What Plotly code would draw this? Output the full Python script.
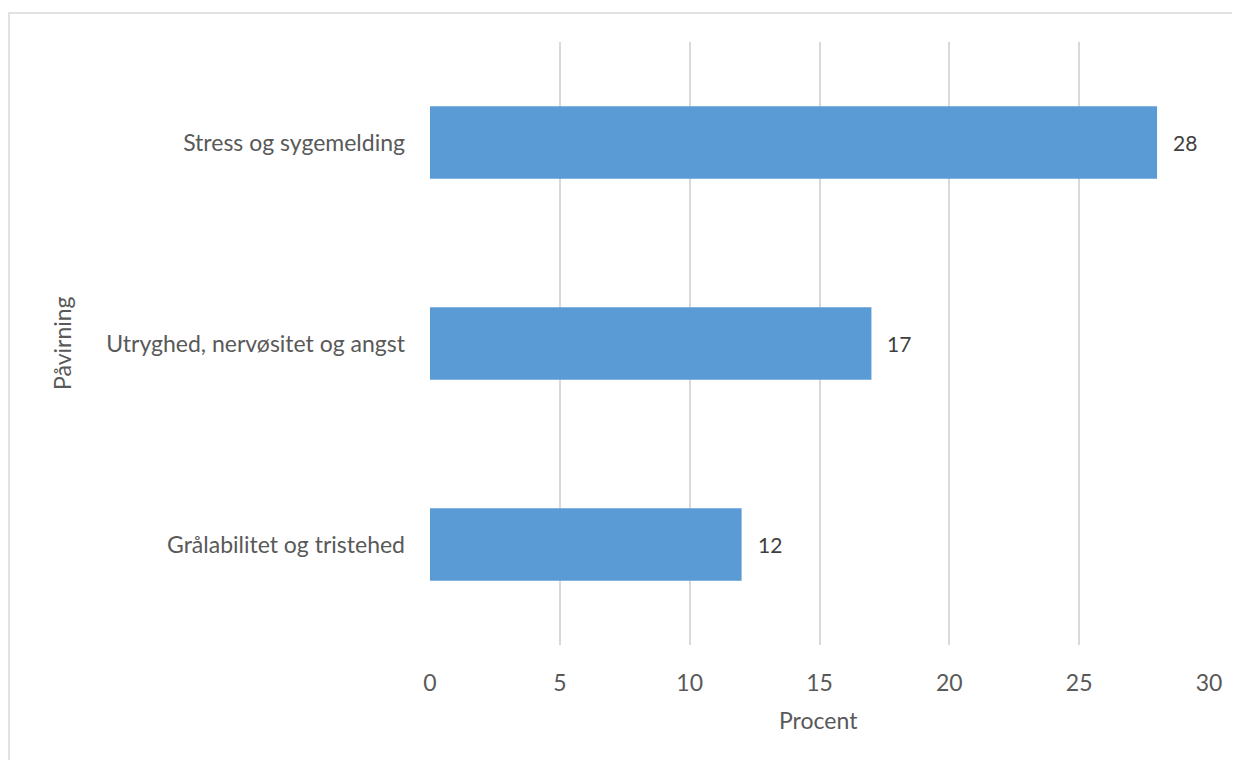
import plotly.graph_objects as go

categories = ["Grålabilitet og tristehed", "Utryghed, nervøsitet og angst", "Stress og sygemelding"]
values = [12, 17, 28]
x_ticks = [0, 5, 10, 15, 20, 25, 30]

# page body has an 8px margin; figure coordinates are screen - 8
OFF = 8
W, H = 1240 - OFF, 760 - OFF
L, R, T, B = 430 - OFF, 1240 - 1209, 42 - OFF, 760 - 645
pw, ph = W - L - R, H - T - B

FONT = "Lato"
GRAY = "#595959"

fig = go.Figure(go.Bar(
    x=values, y=categories, orientation="h",
    marker=dict(color="#5B9BD5", line=dict(width=0)),
    width=0.36,
    hoverinfo="x+y",
))

annotations = [
    dict(text=str(v), x=v, y=c, xref="x", yref="y", xanchor="left", yanchor="middle",
         xshift=14, showarrow=False, font=dict(family=FONT, size=21, color="#404040"))
    for c, v in zip(categories, values)
]
annotations += [
    dict(text="Procent", xref="paper", yref="paper", x=(818 - 430) / pw, y=-(720 - 645) / ph,
         showarrow=False, font=dict(family=FONT, size=23, color=GRAY), xanchor="center", yanchor="middle"),
    dict(text="Påvirning", xref="paper", yref="paper", x=(62 - 430) / pw, y=1 - (343 - 42) / ph,
         showarrow=False, textangle=-90, font=dict(family=FONT, size=23, color=GRAY),
         xanchor="center", yanchor="middle"),
]

fig.update_layout(
    width=W, height=H,
    margin=dict(l=L, r=R, t=T, b=B),
    paper_bgcolor="white", plot_bgcolor="white",
    showlegend=False,
    font=dict(family=FONT, color=GRAY),
    xaxis=dict(range=[0, 30], tickvals=x_ticks, showgrid=True, gridcolor="#D9D9D9", gridwidth=1.5,
               zeroline=False, showline=False, ticks="", ticklabelstandoff=22,
               tickfont=dict(family=FONT, size=23, color=GRAY), fixedrange=True),
    yaxis=dict(showgrid=False, zeroline=False, showline=False, ticks="", ticklabelstandoff=24,
               tickfont=dict(family=FONT, size=23, color=GRAY), automargin=False),
    shapes=[dict(type="rect", xref="paper", yref="paper",
                 x0=(9 - 430) / pw, x1=(1250 - 430) / pw,
                 y0=-(770 - 645) / ph, y1=1 + (42 - 13) / ph,
                 line=dict(color="#D9D9D9", width=1.5), fillcolor="rgba(0,0,0,0)", layer="below")],
    annotations=annotations,
)

fig.write_html("out.html")
